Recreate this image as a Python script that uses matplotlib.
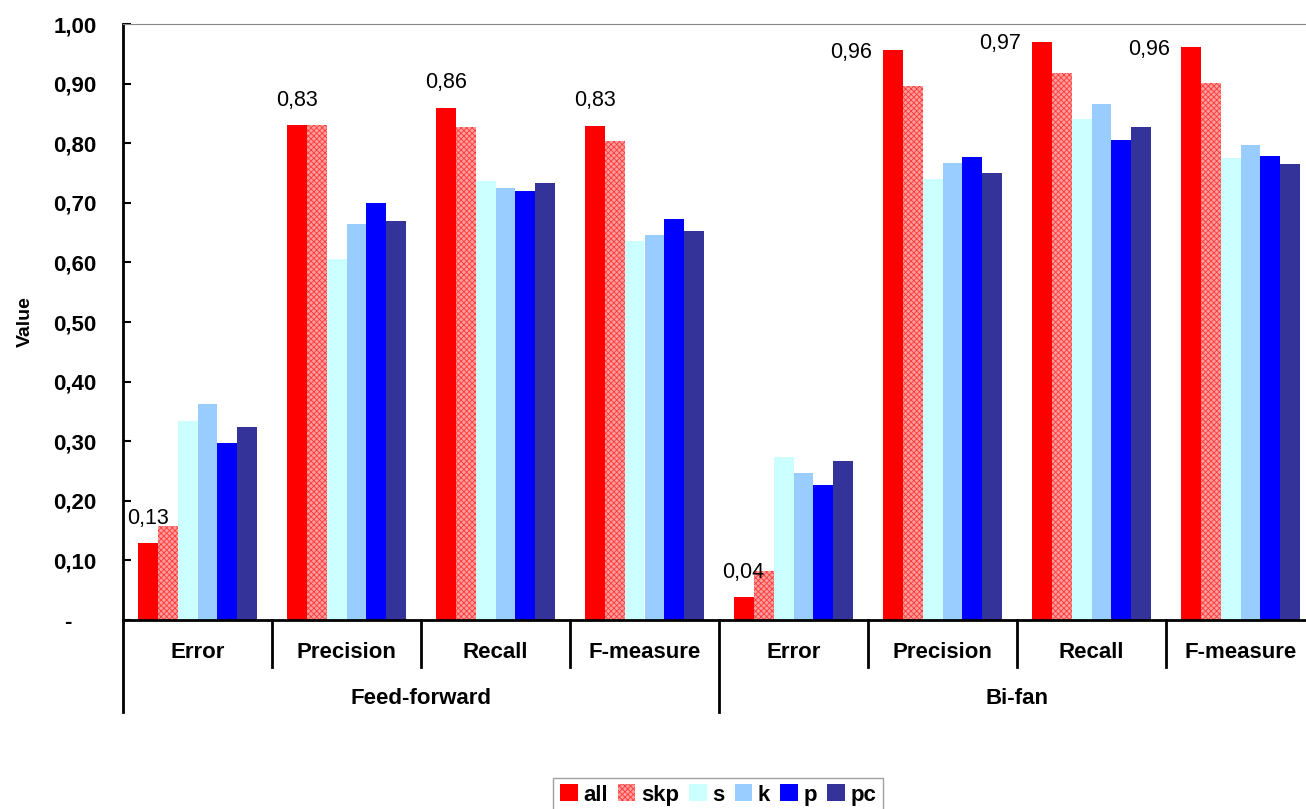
import numpy as np
import matplotlib.pyplot as plt

plt.rcParams['font.family'] = ['Liberation Sans', 'DejaVu Sans']
plt.rcParams['hatch.linewidth'] = 0.6

metrics = ['Error', 'Precision', 'Recall', 'F-measure',
           'Error', 'Precision', 'Recall', 'F-measure']
motifs = ['Feed-forward', 'Bi-fan']

series = ['all', 'skp', 's', 'k', 'p', 'pc']
all_v = [0.129, 0.830, 0.859, 0.829, 0.038, 0.956, 0.970, 0.961]
skp_v = [0.158, 0.830, 0.827, 0.804, 0.082, 0.896, 0.918, 0.901]
s_v = [0.334, 0.606, 0.737, 0.636, 0.273, 0.740, 0.841, 0.775]
k_v = [0.362, 0.664, 0.725, 0.646, 0.247, 0.767, 0.866, 0.797]
p_v = [0.297, 0.700, 0.720, 0.673, 0.226, 0.777, 0.805, 0.778]
pc_v = [0.324, 0.669, 0.733, 0.653, 0.267, 0.750, 0.827, 0.765]
values = [all_v, skp_v, s_v, k_v, p_v, pc_v]

colors = ['#ff0000', '#ff9c9c', '#ccffff', '#99ccff', '#0000ff', '#333399']

fig = plt.figure(figsize=(13.06, 8.09), dpi=100)
ax = fig.add_axes([123 / 1306, 1 - 620 / 809, 1192 / 1306, 596 / 809])

x = np.arange(len(metrics))
w = 0.134
bars = []
for i, (name, vals, c) in enumerate(zip(series, values, colors)):
    if name == 'skp':
        b = ax.bar(x + (i - 2.5) * w, vals, w, facecolor=c, edgecolor='#ff3a3a',
                   hatch='xxxxxx', linewidth=0, label=name)
    else:
        b = ax.bar(x + (i - 2.5) * w, vals, w, color=c, linewidth=0, label=name)
    bars.append(b)

# value labels for "all"
for j, v in enumerate(all_v):
    txt = f'{v:.2f}'.replace('.', ',')
    xb = x[j] - 2.5 * w
    if j >= 5:
        ax.annotate(txt, (xb, v), xytext=(-30, -1.5), textcoords='offset points',
                    ha='center', va='center', fontsize=15.5)
    else:
        ax.annotate(txt, (xb, v), xytext=(0, 10.5), textcoords='offset points',
                    ha='center', va='bottom', fontsize=15.5)

ax.set_xlim(-0.5, len(metrics) - 0.5)
ax.set_ylim(0, 1.0)
yt = np.arange(0, 1.01, 0.1)
ax.set_yticks(yt)
ax.set_yticklabels(['-    '] + [f'{t:.2f}'.replace('.', ',') for t in yt[1:]],
                   fontsize=16, fontweight='bold')
ax.tick_params(axis='y', direction='in', length=6, width=1.5, pad=19)
ax.set_xticks([])
ax.set_ylabel('Value', fontsize=14, fontweight='bold')
ax.yaxis.set_label_coords(-89 / 1192, 0.5)

ax.spines['right'].set_visible(False)
ax.spines['top'].set_color('#888888')
ax.spines['top'].set_linewidth(0.8)
ax.spines['left'].set_linewidth(2)
ax.spines['bottom'].set_linewidth(2)

# two-level category axis
tr = ax.get_xaxis_transform()
short = -47 / 596
long_ = -92 / 596
for j, m in enumerate(metrics):
    ax.annotate(m, (x[j], 0), xycoords=tr, xytext=(0, -23.5),
                textcoords='offset points', ha='center', va='center',
                fontsize=16, fontweight='bold')
for j in range(1, len(metrics)):
    y_end = long_ if j == 4 else short
    ax.plot([j - 0.5, j - 0.5], [0, y_end], transform=tr, color='black',
            lw=2, clip_on=False)
ax.plot([-0.5, -0.5], [0, long_], transform=tr, color='black', lw=2, clip_on=False)
for g, name in enumerate(motifs):
    ax.annotate(name, (g * 4 + 1.5, 0), xycoords=tr, xytext=(0, -56.5),
                textcoords='offset points', ha='center', va='center',
                fontsize=16, fontweight='bold')

leg = fig.legend(handles=bars, labels=series, loc='center',
                 bbox_to_anchor=(718 / 1306, 1 - 795 / 809), ncol=6,
                 frameon=True, fancybox=False, edgecolor='#888888',
                 handlelength=0.8, handleheight=0.8, handletextpad=0.25,
                 columnspacing=0.45, borderpad=0.3, borderaxespad=0,
                 prop={'size': 16, 'weight': 'bold'})
leg.get_frame().set_linewidth(1.0)

fig.savefig('out.png', dpi=100)
